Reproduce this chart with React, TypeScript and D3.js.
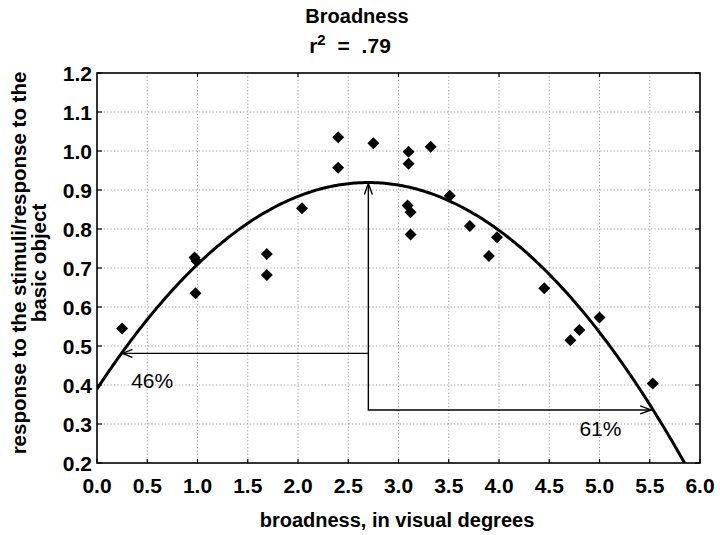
import { useEffect, useRef } from "react";
import * as d3 from "d3";

// scatter data
const broadness = [
  0.25, 0.97, 0.99, 0.98, 1.69, 1.69, 2.04, 2.4, 2.4, 2.75, 3.1, 3.1, 3.32,
  3.09, 3.12, 3.12, 3.51, 3.71, 3.98, 3.9, 4.45, 4.71, 4.8, 5.0, 5.53,
];
const response = [
  0.545, 0.727, 0.718, 0.635, 0.736, 0.682, 0.853, 1.035, 0.957, 1.02, 0.998,
  0.967, 1.011, 0.86, 0.843, 0.786, 0.885, 0.808, 0.779, 0.731, 0.648, 0.515,
  0.541, 0.573, 0.404,
];

// quadratic fit y = b0 + b1 x + b2 x^2
const fitCoef = [0.39, 0.392, -0.0726];

const xTicks = [0, 0.5, 1, 1.5, 2, 2.5, 3, 3.5, 4, 4.5, 5, 5.5, 6];
const xTickLabels = ["0.0", "0.5", "1.0", "1.5", "2.0", "2.5", "3.0", "3.5", "4.0", "4.5", "5.0", "5.5", "6.0"];
const yTicks = [0.2, 0.3, 0.4, 0.5, 0.6, 0.7, 0.8, 0.9, 1.0, 1.1, 1.2];
const yTickLabels = ["0.2", "0.3", "0.4", "0.5", "0.6", "0.7", "0.8", "0.9", "1.0", "1.1", "1.2"];
const topTicks = [1, 2, 3, 4, 5];

// annotation: peak, and the two half-level arrows
const peakX = 2.7;
const leftArrowY = 0.481;
const rightArrowY = 0.336;
const annotations = [
  { text: "46%", x: 0.34, y: 0.392 },
  { text: "61%", x: 4.8, y: 0.269 },
];

const W = 720;
const H = 535;
const FONT = "Arial, 'Liberation Sans', Helvetica, sans-serif";

const fit = (x: number) => fitCoef[0] + fitCoef[1] * x + fitCoef[2] * x * x;
// x on the fitted curve for a given y (side: -1 left, +1 right)
const fitInv = (y: number, side: number) => {
  const [c, b, a] = fitCoef;
  const disc = b * b - 4 * a * (c - y);
  return (-b - side * Math.sqrt(disc)) / (2 * a);
};

export default function App() {
  const ref = useRef<SVGSVGElement | null>(null);

  useEffect(() => {
    const svg = d3.select(ref.current);
    svg.selectAll("*").remove();

    const left = 97;
    const right = 700;
    const top = 73;
    const bottom = 463;

    const x = d3.scaleLinear().domain([0, 6]).range([left, right]);
    const y = d3.scaleLinear().domain([0.2, 1.2]).range([bottom, top]);

    svg
      .append("rect")
      .attr("width", W)
      .attr("height", H)
      .attr("fill", "#fff");

    svg
      .append("defs")
      .append("clipPath")
      .attr("id", "plot-clip")
      .append("rect")
      .attr("x", left)
      .attr("y", top)
      .attr("width", right - left)
      .attr("height", bottom - top);

    // grid
    const grid = svg.append("g").attr("stroke", "#9a9a9a").attr("stroke-width", 1).attr("stroke-dasharray", "1.2,2.2");
    grid
      .selectAll("line.vx")
      .data(xTicks.slice(1, -1))
      .join("line")
      .attr("x1", (d) => x(d))
      .attr("x2", (d) => x(d))
      .attr("y1", top)
      .attr("y2", bottom);
    grid
      .selectAll("line.hy")
      .data(yTicks.slice(1, -1))
      .join("line")
      .attr("x1", left)
      .attr("x2", right)
      .attr("y1", (d) => y(d))
      .attr("y2", (d) => y(d));

    // ticks (inside)
    const ticks = svg.append("g").attr("stroke", "#000").attr("stroke-width", 1.2);
    ticks
      .selectAll("line.b")
      .data(xTicks)
      .join("line")
      .attr("x1", (d) => x(d))
      .attr("x2", (d) => x(d))
      .attr("y1", bottom)
      .attr("y2", bottom - 4);
    ticks
      .selectAll("line.t")
      .data(topTicks)
      .enter()
      .append("line")
      .attr("x1", (d) => x(d))
      .attr("x2", (d) => x(d))
      .attr("y1", top)
      .attr("y2", top + 4);
    ticks
      .selectAll("line.l")
      .data(yTicks)
      .enter()
      .append("line")
      .attr("x1", left)
      .attr("x2", left + 5)
      .attr("y1", (d) => y(d))
      .attr("y2", (d) => y(d));
    ticks
      .selectAll("line.r")
      .data(yTicks)
      .enter()
      .append("line")
      .attr("x1", right)
      .attr("x2", right - 5)
      .attr("y1", (d) => y(d))
      .attr("y2", (d) => y(d));

    // frame
    svg
      .append("rect")
      .attr("x", left)
      .attr("y", top)
      .attr("width", right - left)
      .attr("height", bottom - top)
      .attr("fill", "none")
      .attr("stroke", "#000")
      .attr("stroke-width", 1.6);

    // tick labels
    svg
      .append("g")
      .selectAll("text")
      .data(xTicks)
      .join("text")
      .attr("x", (d) => x(d))
      .attr("y", bottom + 30)
      .attr("text-anchor", "middle")
      .attr("font-family", FONT)
      .attr("font-weight", 700)
      .attr("font-size", 21)
      .text((_, i) => xTickLabels[i]);
    svg
      .append("g")
      .selectAll("text")
      .data(yTicks)
      .join("text")
      .attr("x", left - 5)
      .attr("y", (d) => y(d) + 7.5)
      .attr("text-anchor", "end")
      .attr("font-family", FONT)
      .attr("font-weight", 700)
      .attr("font-size", 21)
      .text((_, i) => yTickLabels[i]);

    const plot = svg.append("g").attr("clip-path", "url(#plot-clip)");

    // fitted curve
    const xs = d3.range(0, 6.001, 0.02);
    const line = d3
      .line<number>()
      .x((d) => x(d))
      .y((d) => y(fit(d)))
      .curve(d3.curveLinear);
    plot
      .append("path")
      .attr("d", line(xs) as string)
      .attr("fill", "none")
      .attr("stroke", "#000")
      .attr("stroke-width", 3);

    // arrows
    const px = x(peakX);
    const peakY = y(fit(peakX));
    const yl = y(leftArrowY);
    const yr = y(rightArrowY);
    const xl = x(fitInv(leftArrowY, -1));
    const xr = x(fitInv(rightArrowY, 1)) - 2;
    const arr = svg.append("g").attr("stroke", "#000").attr("stroke-width", 1.4).attr("fill", "none");
    arr.append("path").attr("d", `M${px},${peakY + 1}V${yr}H${xr}`);
    arr.append("path").attr("d", `M${px},${yl}H${xl + 1}`);
    // heads
    arr.append("path").attr("d", `M${px - 4},${peakY + 12}L${px},${peakY + 1}L${px + 4},${peakY + 12}`);
    arr.append("path").attr("d", `M${xl + 11},${yl - 4}L${xl + 1},${yl}L${xl + 11},${yl + 4}`);
    arr.append("path").attr("d", `M${xr - 11},${yr - 4}L${xr},${yr}L${xr - 11},${yr + 4}`);

    // points
    const diamond = d3.symbol().type(d3.symbolSquare).size(72);
    svg
      .append("g")
      .selectAll("path")
      .data(broadness)
      .join("path")
      .attr("d", diamond() as string)
      .attr("transform", (d, i) => `translate(${x(d)},${y(response[i])}) rotate(45)`)
      .attr("fill", "#000");

    // annotations
    svg
      .append("g")
      .selectAll("text")
      .data(annotations)
      .join("text")
      .attr("x", (d) => x(d.x))
      .attr("y", (d) => y(d.y))
      .attr("font-family", FONT)
      .attr("font-size", 21)
      .attr("fill", "#000")
      .text((d) => d.text);

    // titles
    svg
      .append("text")
      .attr("x", 357)
      .attr("y", 23)
      .attr("text-anchor", "middle")
      .attr("font-family", FONT)
      .attr("font-weight", 700)
      .attr("font-size", 20)
      .text("Broadness");
    const r2 = svg
      .append("text")
      .attr("x", 350)
      .attr("y", 53)
      .attr("text-anchor", "middle")
      .attr("font-family", FONT)
      .attr("font-weight", 700)
      .attr("font-size", 21)
      .attr("word-spacing", 6);
    r2.append("tspan").text("r");
    r2.append("tspan").attr("dy", -8).attr("font-size", 15).text("2");
    r2.append("tspan").attr("dy", 8).text(" = .79");

    svg
      .append("text")
      .attr("x", 397)
      .attr("y", 527)
      .attr("text-anchor", "middle")
      .attr("font-family", FONT)
      .attr("font-weight", 700)
      .attr("font-size", 20)
      .text("broadness, in visual degrees");

    const ylab = svg
      .append("text")
      .attr("transform", `translate(26,263) rotate(-90)`)
      .attr("text-anchor", "middle")
      .attr("font-family", FONT)
      .attr("font-weight", 700)
      .attr("font-size", 20.5);
    ylab.append("tspan").attr("x", 0).attr("dy", 0).text("response to the stimuli/response to the");
    ylab.append("tspan").attr("x", 0).attr("dy", 20).text("basic object");
  }, []);

  return (
    <svg
      ref={ref}
      width={W}
      height={H}
      style={{ position: "absolute", left: 0, top: 0, display: "block" }}
    />
  );
}
